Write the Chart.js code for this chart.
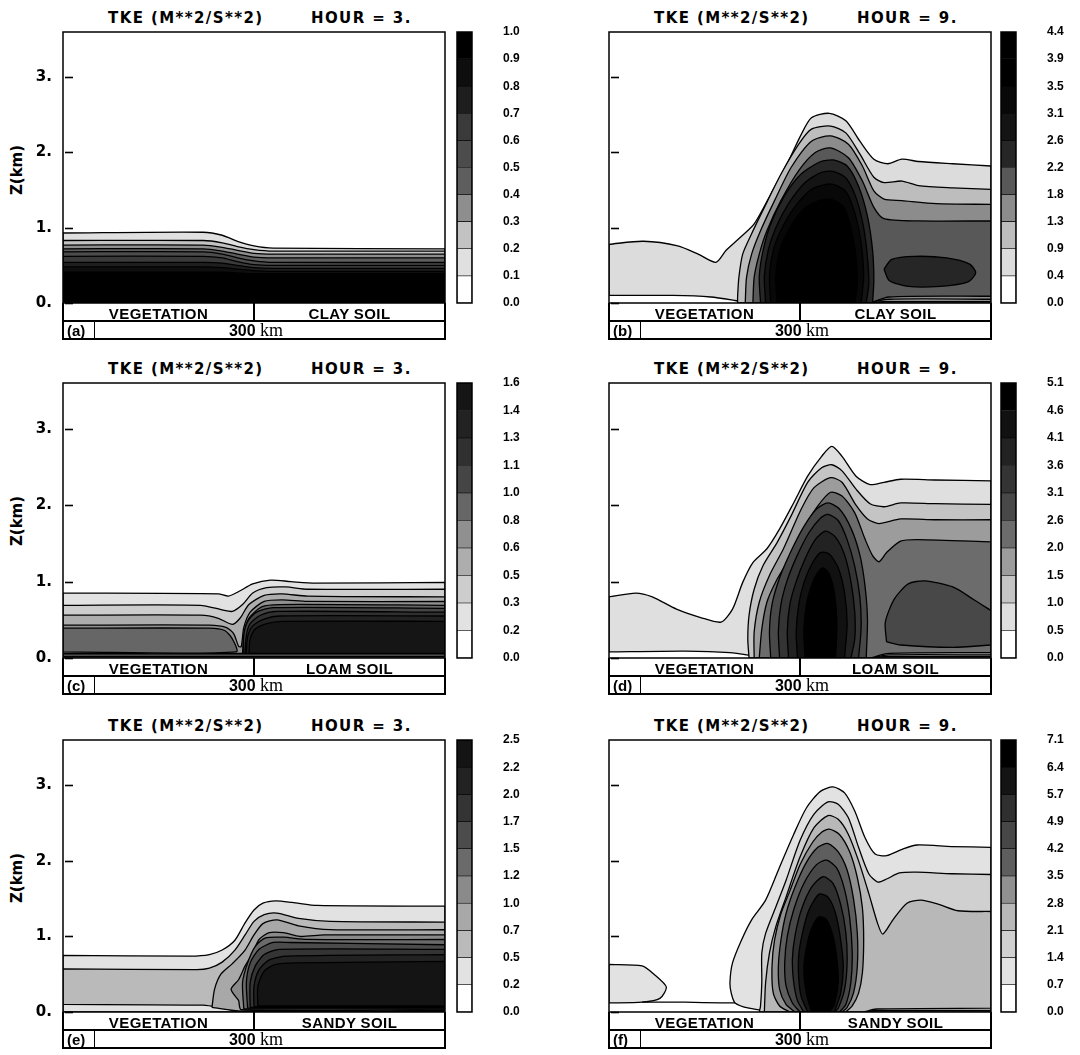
<!DOCTYPE html>
<html>
<head>
<meta charset="utf-8">
<script src="https://cdn.jsdelivr.net/npm/chart.js@4.4.1/dist/chart.umd.min.js"></script>
<style>
html,body{margin:0;padding:0;background:#fff;}
body{position:relative;width:1080px;height:1055px;overflow:hidden;}
.t{position:absolute;white-space:nowrap;color:#000;}
.title{font:bold 15px/18px "DejaVu Sans",sans-serif;letter-spacing:1.4px;}
.zl{font:bold 15px/18px "DejaVu Sans",sans-serif;transform:translate(-50%,-50%) rotate(-90deg);}
.terr{font:bold 15px/17px "Liberation Sans",Arial,sans-serif;transform:translateX(-50%);letter-spacing:0.4px;}
.lab{font:bold 15px/17px "Liberation Sans",Arial,sans-serif;}
.km{font:bold 16px/17px "Liberation Sans",Arial,sans-serif;transform:translateX(-50%);}
.km span{font:18px/17px "Liberation Serif","Times New Roman",serif;}
.ln{position:absolute;background:#000;}
</style>
</head>
<body>
<script>
// ---------------- data ----------------
const yTicks = [0, 1, 2, 3];
const yTickLabels = ['0.', '1.', '2.', '3.'];
const panelLetters = ['a', 'b', 'c', 'd', 'e', 'f'];
const hours = ['3.', '9.', '3.', '9.', '3.', '9.'];
const soilNames = ['CLAY SOIL', 'CLAY SOIL', 'LOAM SOIL', 'LOAM SOIL', 'SANDY SOIL', 'SANDY SOIL'];
const vegName = 'VEGETATION';
const titleText = 'TKE (M**2/S**2)';
const distNumber = '300';
const distUnit = 'km';

// colour-bar level labels (bottom to top)
const levelsA = ['0.0','0.1','0.2','0.3','0.4','0.5','0.6','0.7','0.8','0.9','1.0'];
const levelsB = ['0.0','0.4','0.9','1.3','1.8','2.2','2.6','3.1','3.5','3.9','4.4'];
const levelsC = ['0.0','0.2','0.3','0.5','0.6','0.8','1.0','1.1','1.3','1.4','1.6'];
const levelsD = ['0.0','0.5','1.0','1.5','2.0','2.6','3.1','3.6','4.1','4.6','5.1'];
const levelsE = ['0.0','0.2','0.5','0.7','1.0','1.2','1.5','1.7','2.0','2.2','2.5'];
const levelsF = ['0.0','0.7','1.4','2.1','2.8','3.5','4.2','4.9','5.7','6.4','7.1'];

// contour regions: [band index, [x(km), z(km), x, z, ...]]  (outline of the area above that level)
const regionsA = [
 [1,[0,0.93, 110,0.94, 125,0.90, 137,0.82, 150,0.76, 165,0.73, 300,0.72, 300,0, 0,0]],
 [2,[0,0.83, 110,0.83, 125,0.80, 137,0.75, 150,0.71, 165,0.69, 300,0.69, 300,0, 0,0]],
 [3,[0,0.77, 110,0.77, 125,0.74, 137,0.70, 150,0.66, 165,0.65, 300,0.65, 300,0, 0,0]],
 [4,[0,0.72, 110,0.72, 125,0.69, 137,0.65, 150,0.61, 165,0.60, 300,0.60, 300,0, 0,0]],
 [5,[0,0.68, 110,0.68, 125,0.65, 137,0.60, 150,0.56, 165,0.54, 300,0.54, 300,0, 0,0]],
 [6,[0,0.62, 110,0.62, 125,0.60, 137,0.55, 150,0.51, 165,0.50, 300,0.50, 300,0, 0,0]],
 [7,[0,0.54, 110,0.54, 125,0.53, 137,0.50, 150,0.47, 165,0.46, 300,0.46, 300,0, 0,0]],
 [8,[0,0.48, 110,0.48, 125,0.47, 137,0.45, 150,0.43, 165,0.42, 300,0.42, 300,0, 0,0]],
 [9,[0,0.41, 110,0.41, 125,0.41, 137,0.40, 150,0.39, 165,0.39, 300,0.39, 300,0, 0,0]]
];
const regionsB = [
 [1,[0,0.78, 27,0.82, 54,0.76, 70,0.65, 84,0.54, 92,0.70, 103,0.87, 114,1.05, 130,1.54, 141,1.89, 151,2.24, 159,2.46, 173,2.52, 186,2.42, 197,2.15, 208,1.91, 219,1.85, 230,1.91, 243,1.88, 270,1.85, 300,1.82, 300,0, 110,0, 100,0.03, 80,0.08, 50,0.10, 0,0.10]],
 [2,[101,0, 101,0.08, 102,0.34, 105,0.65, 112,0.92, 122,1.27, 135,1.71, 149,2.11, 159,2.31, 174,2.35, 186,2.26, 197,1.98, 208,1.67, 216,1.60, 230,1.62, 243,1.56, 270,1.53, 300,1.51, 300,0.02, 220,0.02, 200,0]],
 [3,[107,0, 108,0.34, 112,0.65, 119,0.96, 130,1.36, 143,1.80, 159,2.15, 174,2.22, 188,2.11, 199,1.82, 208,1.49, 216,1.38, 230,1.36, 257,1.32, 300,1.31, 300,0.05, 220,0.05, 200,0]],
 [4,[113,0, 114,0.34, 118,0.65, 124,0.96, 135,1.36, 149,1.76, 162,2.00, 174,2.06, 188,1.93, 199,1.62, 208,1.27, 216,1.12, 243,1.09, 300,1.09, 300,0.09, 220,0.08, 205,0]],
 [5,[119,0, 118,0.35, 121,0.70, 127,1.05, 137,1.40, 150,1.70, 165,1.87, 176,1.90, 187,1.82, 196,1.55, 203,1.15, 207,0.70, 208,0.30, 207,0]],
 [5,[216,0.45, 222,0.58, 240,0.62, 265,0.60, 283,0.52, 288,0.40, 282,0.28, 260,0.22, 235,0.22, 220,0.30]],
 [6,[123,0, 122,0.35, 125,0.70, 131,1.00, 141,1.32, 154,1.60, 166,1.73, 176,1.75, 186,1.66, 194,1.40, 200,1.00, 203,0.60, 204,0.25, 202,0]],
 [7,[127,0, 126,0.35, 129,0.70, 136,1.00, 147,1.30, 160,1.52, 175,1.58, 186,1.48, 193,1.20, 198,0.80, 200,0.35, 198,0]],
 [8,[132,0, 131,0.35, 134,0.70, 142,1.00, 153,1.25, 165,1.36, 174,1.38, 184,1.28, 190,1.00, 194,0.60, 195,0.25, 193,0]],
 [9,[137,0, 136,0.35, 140,0.70, 148,0.95, 160,1.12, 172,1.15, 182,1.05, 188,0.80, 191,0.45, 190,0]]
];
const regionsC = [
 [1,[0,0.85, 122,0.84, 130,0.81, 138,0.87, 149,0.97, 163,1.02, 179,1.00, 198,0.98, 300,0.99, 300,0, 0,0]],
 [2,[0,0.69, 108,0.69, 125,0.63, 133,0.61, 141,0.70, 149,0.85, 160,0.92, 175,0.93, 192,0.90, 300,0.90, 300,0.02, 0,0.02]],
 [3,[0,0.56, 108,0.56, 122,0.52, 133,0.44, 139,0.52, 146,0.70, 158,0.82, 172,0.84, 192,0.81, 300,0.80, 300,0.04, 0,0.04]],
 [4,[0,0.43, 115,0.43, 128,0.40, 134,0.32, 138,0.15, 140,0.15, 142,0.40, 147,0.60, 158,0.74, 172,0.76, 192,0.74, 300,0.74, 300,0.06, 0,0.06]],
 [5,[0,0.39, 115,0.39, 127,0.36, 133,0.25, 136,0.08, 0,0.08]],
 [5,[141,0.06, 142,0.30, 146,0.52, 156,0.67, 170,0.70, 300,0.69, 300,0.06]],
 [6,[142,0.06, 142,0.30, 145,0.48, 152,0.60, 165,0.66, 300,0.65, 300,0.06]],
 [7,[143,0.06, 144,0.30, 147,0.45, 155,0.56, 168,0.61, 300,0.60, 300,0.06]],
 [8,[144,0.06, 145,0.28, 149,0.42, 158,0.51, 170,0.55, 300,0.55, 300,0.06]],
 [9,[146,0.06, 147,0.25, 151,0.38, 160,0.45, 172,0.48, 300,0.48, 300,0.06]]
];
const regionsD = [
 [1,[0,0.80, 21,0.85, 34,0.80, 53,0.64, 72,0.53, 88,0.47, 97,0.64, 105,0.99, 113,1.25, 124,1.43, 134,1.69, 145,2.03, 156,2.38, 167,2.64, 175,2.77, 183,2.64, 194,2.38, 205,2.27, 216,2.30, 229,2.34, 256,2.33, 300,2.32, 300,0, 122,0, 112,0.03, 95,0.07, 60,0.09, 0,0.08]],
 [2,[110,0, 109,0.25, 110,0.56, 114,0.90, 121,1.21, 132,1.51, 143,1.86, 156,2.30, 167,2.49, 175,2.53, 183,2.45, 194,2.21, 205,2.02, 216,1.98, 229,2.03, 256,2.02, 300,2.01, 300,0.02, 220,0.02, 205,0]],
 [3,[114,0, 114,0.34, 118,0.73, 126,1.08, 137,1.43, 151,1.95, 161,2.23, 174,2.36, 183,2.30, 194,2.00, 203,1.82, 212,1.76, 229,1.82, 256,1.81, 300,1.81, 300,0.04, 220,0.04, 205,0]],
 [4,[118,0, 120,0.38, 124,0.73, 132,1.03, 143,1.34, 153,1.69, 164,1.99, 174,2.17, 183,2.12, 193,1.90, 201,1.56, 207,1.34, 212,1.26, 218,1.38, 229,1.53, 243,1.55, 300,1.52, 300,0.07, 220,0.06, 205,0]],
 [5,[127,0, 126,0.34, 128,0.70, 134,1.05, 143,1.40, 153,1.72, 163,1.95, 172,2.03, 181,1.95, 190,1.70, 197,1.35, 201,0.95, 203,0.50, 202,0]],
 [5,[218,0.21, 217,0.47, 224,0.77, 235,0.97, 248,1.01, 270,0.93, 286,0.77, 300,0.62, 300,0.17, 270,0.14, 229,0.17]],
 [6,[134,0, 133,0.34, 135,0.70, 140,1.02, 148,1.35, 157,1.64, 166,1.83, 172,1.88, 180,1.80, 187,1.55, 193,1.20, 197,0.80, 198,0.40, 196,0]],
 [7,[141,0, 140,0.34, 142,0.70, 147,1.00, 154,1.30, 162,1.55, 170,1.66, 178,1.58, 185,1.35, 190,1.00, 193,0.60, 193,0.25, 190,0]],
 [8,[148,0, 147,0.34, 149,0.70, 153,0.98, 159,1.22, 166,1.38, 173,1.36, 180,1.18, 185,0.85, 187,0.45, 185,0]],
 [9,[154,0, 153,0.35, 155,0.70, 159,0.95, 164,1.12, 168,1.18, 173,1.10, 177,0.85, 179,0.45, 178,0]]
];
const regionsE = [
 [1,[0,0.75, 100,0.74, 115,0.76, 125,0.82, 135,0.95, 143,1.18, 150,1.35, 157,1.44, 167,1.47, 180,1.45, 200,1.41, 300,1.40, 300,0, 0,0]],
 [2,[0,0.57, 105,0.56, 115,0.58, 125,0.66, 135,0.82, 143,1.02, 150,1.20, 158,1.29, 168,1.31, 185,1.24, 210,1.20, 300,1.19, 300,0.01, 140,0, 125,0.05, 110,0.09, 0,0.10]],
 [3,[117,0.06, 119,0.30, 124,0.50, 133,0.64, 143,0.82, 150,1.02, 157,1.17, 168,1.22, 185,1.14, 210,1.09, 300,1.09, 300,0.02, 140,0.01]],
 [4,[138,0.15, 132,0.30, 138,0.43, 143,0.61, 149,0.78, 154,0.96, 162,1.05, 173,1.05, 186,1.00, 205,1.02, 300,1.02, 300,0.03, 140,0.03]],
 [5,[142,0.04, 141,0.39, 145,0.65, 151,0.87, 159,0.98, 173,0.99, 192,0.96, 300,0.96, 300,0.04]],
 [6,[145,0.05, 144,0.39, 147,0.65, 154,0.83, 165,0.92, 178,0.92, 300,0.89, 300,0.05]],
 [7,[147,0.06, 147,0.39, 151,0.61, 158,0.76, 170,0.83, 300,0.83, 300,0.06]],
 [8,[150,0.07, 150,0.34, 154,0.56, 162,0.69, 176,0.74, 300,0.76, 300,0.07]],
 [9,[153,0.08, 153,0.34, 158,0.54, 167,0.63, 184,0.65, 300,0.67, 300,0.08]]
];
const regionsF = [
 [1,[0,0.63, 26,0.61, 36,0.49, 45,0.33, 40,0.18, 26,0.13, 0,0.12]],
 [1,[130,0, 110,0.05, 99,0.12, 96,0.25, 95,0.39, 97,0.65, 104,0.95, 112,1.22, 123,1.48, 134,1.92, 145,2.35, 155,2.70, 166,2.92, 176,2.98, 185,2.90, 193,2.66, 201,2.31, 209,2.09, 218,2.07, 231,2.16, 242,2.21, 269,2.19, 300,2.18, 300,0]],
 [2,[118,0, 119,0.08, 120,0.39, 120,0.78, 123,1.04, 131,1.39, 139,1.74, 150,2.27, 161,2.62, 172,2.78, 180,2.75, 188,2.57, 196,2.18, 204,1.83, 211,1.72, 218,1.76, 228,1.84, 242,1.85, 269,1.83, 300,1.82, 300,0.02, 210,0.02, 200,0]],
 [3,[122,0, 123,0.39, 126,0.78, 131,1.13, 139,1.52, 150,2.05, 161,2.44, 172,2.60, 180,2.55, 188,2.35, 196,2.00, 204,1.57, 211,1.17, 215,1.03, 223,1.22, 234,1.44, 245,1.48, 258,1.43, 274,1.34, 300,1.33, 300,0.05, 210,0.04, 200,0]],
 [4,[142,0, 134,0.08, 129,0.25, 128,0.60, 130,0.95, 135,1.30, 142,1.60, 150,1.95, 160,2.25, 167,2.38, 173,2.42, 181,2.35, 189,2.12, 195,1.78, 199,1.38, 200,0.95, 199,0.52, 196,0.25, 191,0.08, 186,0]],
 [5,[146,0, 139,0.10, 134,0.30, 133,0.60, 135,0.95, 139,1.30, 146,1.65, 155,1.98, 164,2.18, 172,2.23, 180,2.12, 187,1.88, 192,1.50, 195,1.05, 195,0.60, 192,0.25, 187,0.06, 183,0]],
 [6,[150,0, 144,0.12, 139,0.35, 138,0.65, 140,1.00, 145,1.35, 153,1.70, 163,1.95, 171,2.01, 179,1.90, 185,1.62, 189,1.25, 191,0.80, 190,0.40, 186,0.10, 181,0]],
 [7,[153,0, 148,0.15, 145,0.40, 144,0.70, 146,1.00, 151,1.35, 159,1.65, 168,1.79, 176,1.70, 182,1.42, 186,1.05, 187,0.65, 185,0.30, 180,0.05, 177,0]],
 [8,[156,0, 151,0.20, 149,0.45, 149,0.75, 152,1.05, 157,1.35, 165,1.56, 172,1.52, 178,1.30, 182,0.95, 184,0.60, 182,0.25, 177,0]],
 [9,[159,0, 155,0.25, 153,0.55, 155,0.85, 159,1.10, 165,1.26, 171,1.22, 176,1.00, 179,0.70, 180,0.40, 177,0.10, 173,0]]
];
// extra contour line near the ground (panel f)
const lowLineF = [26,0.13, 60,0.13, 88,0.12, 99,0.12];

// ---------------- styles ----------------
const shadesA = ['#ffffff','#e0e0e0','#c2c2c2','#8e8e8e','#5e5e5e','#4c4c4c','#3a3a3a','#1e1e1e','#0e0e0e','#000000'];
const shadesB = ['#ffffff','#dcdcdc','#bdbdbd','#8c8c8c','#585858','#262626','#141414','#080808','#000000','#000000'];
const shadesC = ['#ffffff','#e2e2e2','#cdcdcd','#adadad','#909090','#666666','#454545','#303030','#222222','#151515'];
const shadesD = ['#ffffff','#dfdfdf','#c4c4c4','#9c9c9c','#6c6c6c','#484848','#343434','#222222','#111111','#000000'];
const shadesE = ['#ffffff','#e2e2e2','#bababa','#a8a8a8','#8a8a8a','#6a6a6a','#4c4c4c','#343434','#222222','#141414'];
const shadesF = ['#ffffff','#e2e2e2','#d0d0d0','#b8b8b8','#909090','#5e5e5e','#474747','#2f2f2f','#141414','#000000'];

// layout (page pixels)
const colX = [63, 609];
const rowT = [32, 383, 740];
const rowB = [303, 658, 1012];
const PW = 382;
const cbX = [457, 1001];

const panels = [
 {col:0,row:0,levels:levelsA,regions:regionsA,shades:shadesA,lines:[]},
 {col:1,row:0,levels:levelsB,regions:regionsB,shades:shadesB,lines:[]},
 {col:0,row:1,levels:levelsC,regions:regionsC,shades:shadesC,lines:[]},
 {col:1,row:1,levels:levelsD,regions:regionsD,shades:shadesD,lines:[]},
 {col:0,row:2,levels:levelsE,regions:regionsE,shades:shadesE,lines:[]},
 {col:1,row:2,levels:levelsF,regions:regionsF,shades:shadesF,lines:[lowLineF]}
];

// points -> {x,y}; points on the plot boundary are doubled so the spline keeps sharp corners there
function pts(flat, close) {
  const out = [];
  const push = (x, y) => {
    out.push({x, y});
    if (x <= 0 || x >= 300 || y <= 0) out.push({x, y});
  };
  for (let i = 0; i < flat.length; i += 2) push(flat[i], flat[i + 1]);
  if (close) push(flat[0], flat[1]);
  return out;
}
function txt(cls, s, x, y) {
  const d = document.createElement('div');
  d.className = 't ' + cls; d.textContent = s;
  d.style.left = x + 'px'; d.style.top = y + 'px';
  document.body.appendChild(d); return d;
}
function rule(x, y, w, h) {
  const d = document.createElement('div');
  d.className = 'ln';
  d.style.left = x + 'px'; d.style.top = y + 'px'; d.style.width = w + 'px'; d.style.height = h + 'px';
  document.body.appendChild(d);
}
function mkCanvas(x, y, w, h) {
  const c = document.createElement('canvas');
  c.width = w; c.height = h;
  c.style.position = 'absolute'; c.style.left = x + 'px'; c.style.top = y + 'px';
  c.style.width = w + 'px'; c.style.height = h + 'px';
  document.body.appendChild(c); return c;
}
function fixAxis(s) { s.width = 63; s.paddingTop = 0; s.paddingBottom = 0; }

const framePlugin = {
  id: 'frame',
  afterDatasetsDraw(chart) {
    const {ctx, chartArea: a} = chart;
    const ys = chart.scales.y;
    ctx.save();
    ctx.strokeStyle = '#000';
    ctx.lineWidth = 1.5;
    ctx.strokeRect(a.left, a.top, a.right - a.left, a.bottom - a.top);
    ctx.lineWidth = 1.6;
    yTicks.forEach(v => {
      const py = Math.round(ys.getPixelForValue(v)) + 0.5;
      ctx.beginPath(); ctx.moveTo(a.left + 2, py); ctx.lineTo(a.left + 10, py); ctx.stroke();
    });
    ctx.restore();
  }
};
const cbFrame = {
  id: 'cbframe',
  afterDatasetsDraw(chart) {
    const {ctx, chartArea: a} = chart;
    ctx.save(); ctx.strokeStyle = '#000'; ctx.lineWidth = 1.5;
    ctx.strokeRect(a.left, a.top, a.right - a.left, a.bottom - a.top);
    ctx.restore();
  }
};

panels.forEach((p, idx) => {
  const L = colX[p.col], T = rowT[p.row], B = rowB[p.row], H = B - T;
  // titles
  txt('title', titleText, L + 45, T - 23);
  txt('title', 'HOUR = ' + hours[idx], L + 248, T - 23);
  if (p.col === 0) txt('zl', 'Z(km)', 17, T + 138);
  // main contour chart
  const pad = 12;
  const cv = mkCanvas(L - 63, T - pad, 63 + PW + pad, H + 2 * pad);
  const datasets = p.regions.map(([lvl, flat]) => ({
    data: pts(flat, true), fill: 'shape', backgroundColor: p.shades[lvl],
    borderColor: '#000', borderWidth: 1.3, pointRadius: 0, tension: 0.25, order: 30 - lvl
  }));
  p.lines.forEach(flat => datasets.push({
    data: pts(flat, false), fill: false, borderColor: '#000', borderWidth: 1.3,
    pointRadius: 0, tension: 0.25, order: 0
  }));
  new Chart(cv, {
    type: 'line',
    data: {datasets},
    options: {
      responsive: false, animation: false, devicePixelRatio: 1, events: [],
      layout: {padding: {top: pad, bottom: pad, right: pad, left: 0}},
      plugins: {legend: {display: false}, tooltip: {enabled: false}},
      scales: {
        x: {type: 'linear', min: 0, max: 300, display: false},
        y: {
          type: 'linear', min: 0, max: 3.6,
          afterFit: fixAxis,
          afterBuildTicks: s => { s.ticks = yTicks.map(v => ({value: v})); },
          grid: {display: false, drawTicks: false},
          border: {display: false},
          ticks: {
            display: p.col === 0, padding: 11, color: '#000', autoSkip: false,
            font: {family: 'DejaVu Sans', weight: 'bold', size: 15},
            callback: v => yTickLabels[yTicks.indexOf(v)]
          }
        }
      }
    },
    plugins: [framePlugin]
  });
  // colour bar
  const cpad = 10;
  const cb = mkCanvas(cbX[p.col] - 2, T - cpad, 2 + 15 + 63, H + 2 * cpad);
  new Chart(cb, {
    type: 'bar',
    data: {
      labels: ['bar'],
      datasets: p.levels.slice(1).map((_, i) => ({
        data: [1], backgroundColor: p.shades[i], borderColor: '#000', borderWidth: 0.6,
        borderSkipped: false, barPercentage: 1, categoryPercentage: 1
      }))
    },
    options: {
      responsive: false, animation: false, devicePixelRatio: 1, events: [],
      layout: {padding: {top: cpad, bottom: cpad, left: 2, right: 0}},
      plugins: {legend: {display: false}, tooltip: {enabled: false}},
      scales: {
        x: {display: false, stacked: true},
        y: {
          stacked: true, min: 0, max: 10, position: 'right',
          afterFit: fixAxis,
          afterBuildTicks: s => { s.ticks = p.levels.map((_, i) => ({value: i})); },
          grid: {display: false, drawTicks: false},
          border: {display: false},
          ticks: {
            padding: 31, color: '#000', autoSkip: false,
            font: {family: 'Liberation Sans', weight: 'bold', size: 12},
            callback: v => p.levels[v]
          }
        }
      }
    },
    plugins: [cbFrame]
  });
  // terrain box
  rule(L - 0.75, B, 1.5, 36);
  rule(L + PW - 0.75, B, 1.5, 36);
  rule(L - 0.75, B + 17.25, PW + 1.5, 1.5);
  rule(L - 0.75, B + 35, PW + 1.5, 2);
  rule(L + PW / 2 - 0.75, B, 1.5, 18);
  rule(L + 31, B + 18, 1.2, 18);
  txt('terr', vegName, L + PW / 4, B + 2);
  txt('terr', soilNames[idx], L + 3 * PW / 4, B + 2);
  txt('lab', '(' + panelLetters[idx] + ')', L + 4, B + 19);
  const k = txt('km', distNumber + ' ', L + PW / 2 + 2, B + 19);
  const sp = document.createElement('span'); sp.textContent = distUnit; k.appendChild(sp);
});
</script>
</body>
</html>
